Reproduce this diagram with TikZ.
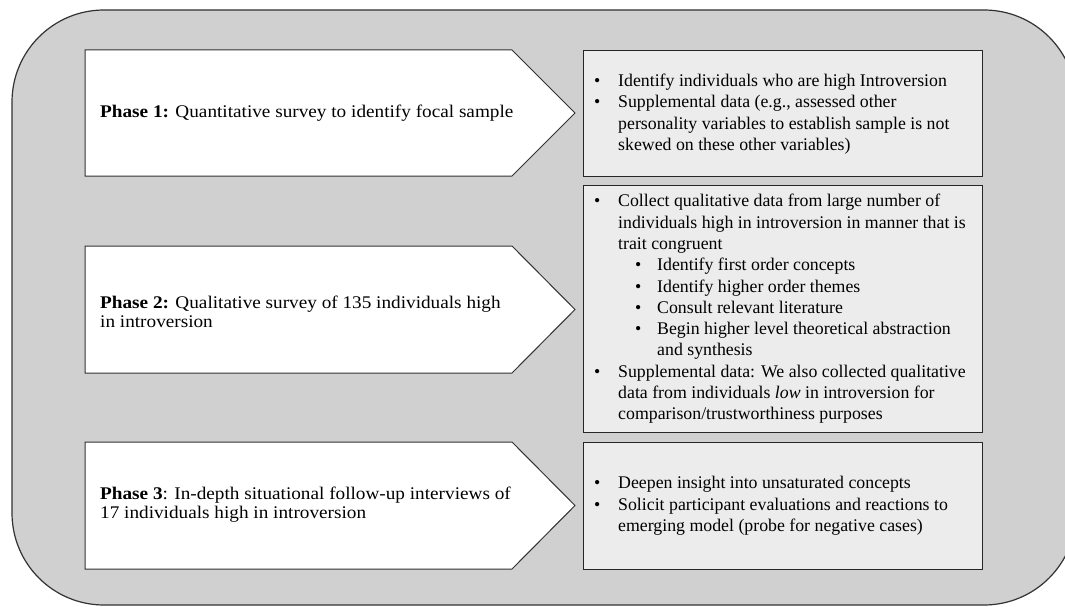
\documentclass[tikz,border=0pt]{standalone}
\usepackage{fontspec}
\setmainfont{Liberation Serif}
\newfontfamily\widefont[FakeStretch=1.08]{Liberation Serif}
\definecolor{outerfill}{RGB}{208,208,208}
\definecolor{boxfill}{RGB}{236,236,236}
\definecolor{edgegray}{RGB}{50,50,50}
\newcommand\bul{\makebox[24pt][l]{\textbullet}}
\newcommand\ind{\hspace*{24pt}}
\newcommand\subbul{\hspace*{41pt}\makebox[22pt][l]{\textbullet}}
\newcommand\subind{\hspace*{63pt}}
\begin{document}
\begin{tikzpicture}[x=1pt,y=-1pt,
  frame/.style={draw=edgegray, line width=1.2pt, fill=outerfill, rounded corners=92pt},
  phasearrow/.style={draw=edgegray, line width=1pt, fill=white},
  infobox/.style={draw=black!85, line width=1.4pt, fill=boxfill, inner sep=0pt, anchor=north west},
  lefttext/.style={anchor=west, inner sep=0pt, align=left, font=\widefont\fontsize{17.8}{18.8}\selectfont},
  righttext/.style={anchor=west, inner sep=0pt, align=left, font=\fontsize{17.8}{21.3}\selectfont}]
\useasboundingbox (0,0) rectangle (1065,607);
\clip (0,0) rectangle (1065,607);
\draw[frame] (12,10) rectangle (1076,605);

% phase arrows
\draw[phasearrow] (85,50) -- (512,50) -- (575,113) -- (512,176) -- (85,176) -- cycle;
\draw[phasearrow] (85,246) -- (512,246) -- (575,309.5) -- (512,373) -- (85,373) -- cycle;
\draw[phasearrow] (85,442) -- (512,442) -- (575,505.5) -- (512,569) -- (85,569) -- cycle;

% right boxes
\node[infobox, minimum width=399pt, minimum height=126pt] (b1) at (583,50) {};
\node[infobox, minimum width=399pt, minimum height=247pt] (b2) at (583,185) {};
\node[infobox, minimum width=399pt, minimum height=127pt] (b3) at (583,442) {};

% left texts
\node[lefttext] (t1) at (100,113) {\textbf{Phase 1:} Quantitative survey to identify focal sample};
\node[lefttext] (t2) at (100,312) {\textbf{Phase 2:} Qualitative survey of 135 individuals high\\in introversion};
\node[lefttext] (t3) at (100,505) {\textbf{Phase 3}: In-depth situational follow-up interviews of\\17 individuals high in introversion};

% right texts
\node[righttext] (r1) at (594,114) {\bul Identify individuals who are high Introversion\\
\bul Supplemental data (e.g., assessed other\\
\ind personality variables to establish sample is not\\
\ind skewed on these other variables)};
\node[righttext] (r2) at (594,309) {\bul Collect qualitative data from large number of\\
\ind individuals high in introversion in manner that is\\
\ind trait congruent\\
\subbul Identify first order concepts\\
\subbul Identify higher order themes\\
\subbul Consult relevant literature\\
\subbul Begin higher level theoretical abstraction\\
\subind and synthesis\\
\bul Supplemental data: We also collected qualitative\\
\ind data from individuals \textit{low} in introversion for\\
\ind comparison/trustworthiness purposes};
\node[righttext] (r3) at (594,506) {\bul Deepen insight into unsaturated concepts\\
\bul Solicit participant evaluations and reactions to\\
\ind emerging model (probe for negative cases)};
\end{tikzpicture}
\end{document}
